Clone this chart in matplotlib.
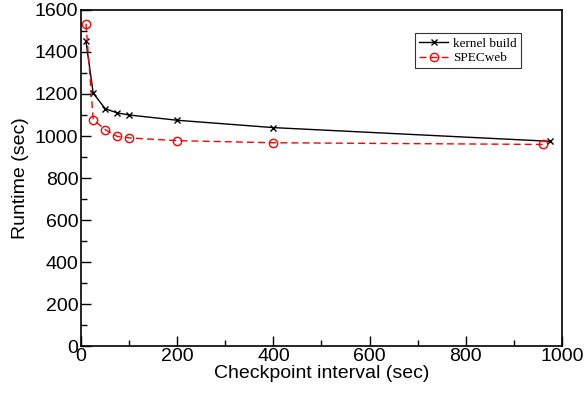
import matplotlib
matplotlib.use("Agg")
import matplotlib.pyplot as plt
from matplotlib.ticker import MultipleLocator

# checkpoint interval (sec) and runtime (sec)
kernel_x = [10, 25, 50, 75, 100, 200, 400, 975]
kernel_y = [1450, 1204, 1130, 1110, 1100, 1075, 1040, 975]
spec_x = [10, 25, 50, 75, 100, 200, 400, 960]
spec_y = [1534, 1078, 1030, 998, 991, 978, 968, 960]

plt.rcParams["font.family"] = ["Liberation Sans", "DejaVu Sans"]

fig = plt.figure(figsize=(5.84, 3.94), dpi=100)
ax = fig.add_axes([0.139, 0.121, 0.823, 0.854])

ax.plot(kernel_x, kernel_y, color="black", lw=1.0, marker="x", ms=4.5,
        mew=1.0, label="kernel build")
ax.plot(spec_x, spec_y, color="red", lw=1.0, ls=(0, (5, 3)), marker="o", ms=6,
        mfc="none", mec="red", mew=1.0, label="SPECweb")

ax.set_xlim(0, 1000)
ax.set_ylim(0, 1600)
ax.xaxis.set_major_locator(MultipleLocator(200))
ax.xaxis.set_minor_locator(MultipleLocator(100))
ax.yaxis.set_major_locator(MultipleLocator(200))
ax.yaxis.set_minor_locator(MultipleLocator(100))
ax.tick_params(which="both", direction="in", labelsize=14, top=False, right=False)
ax.tick_params(which="major", length=7, width=1.0)
ax.tick_params(which="minor", length=4, width=1.0)
ax.tick_params(axis="x", pad=1)
ax.tick_params(axis="y", pad=2)
for s in ax.spines.values():
    s.set_linewidth(1.2)

ax.set_xlabel("Checkpoint interval (sec)", fontsize=14, labelpad=0)
ax.set_ylabel("Runtime (sec)", fontsize=14, labelpad=4)

leg = ax.legend(loc="upper right", bbox_to_anchor=(0.915, 0.93),
                prop={"family": "Liberation Serif", "size": 9.5},
                frameon=True, fancybox=False, edgecolor="black",
                handlelength=2.2, handletextpad=0.4, borderpad=0.3,
                labelspacing=0.2, borderaxespad=0)
leg.get_frame().set_linewidth(0.8)

fig.savefig("out.png", dpi=100)
